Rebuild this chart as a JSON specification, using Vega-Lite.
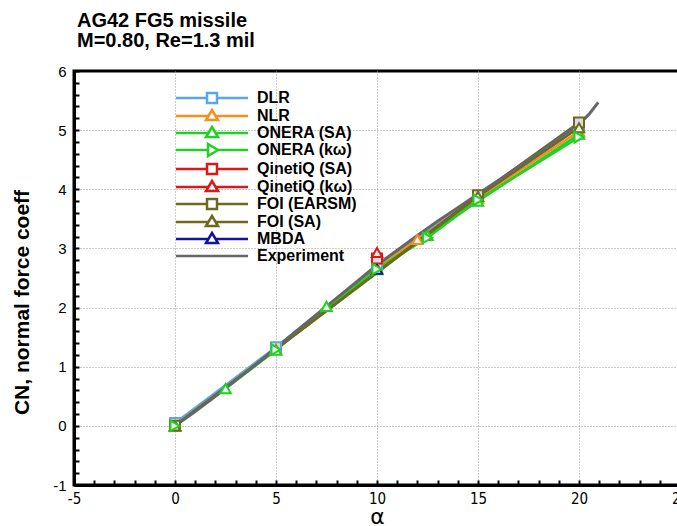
{
  "$schema": "https://vega.github.io/schema/vega-lite/v6.json",
  "width": 606,
  "height": 414,
  "autosize": {"type": "none"},
  "padding": {"left": 74, "top": 71, "right": -3, "bottom": 41},
  "background": "white",
  "config": {"view": {"stroke": "black", "strokeWidth": 3}, "font": "Liberation Sans"},
  "title": {
    "text": ["AG42 FG5 missile", "M=0.80, Re=1.3 mil"],
    "anchor": "start", "frame": "group", "dx": 3, "dy": 19,
    "fontSize": 20, "fontWeight": "bold", "font": "Liberation Sans", "color": "black",
    "lineHeight": 20, "baseline": "bottom", "offset": 12
  },
  "datasets": {
    "d": [
      {"series": "DLR", "alpha": 0, "cn": 0.05},
      {"series": "DLR", "alpha": 5, "cn": 1.33},
      {"series": "DLR", "alpha": 10, "cn": 2.7},
      {"series": "DLR", "alpha": 15, "cn": 3.87},
      {"series": "DLR", "alpha": 20, "cn": 5.06},
      {"series": "NLR", "alpha": 0, "cn": 0.0},
      {"series": "NLR", "alpha": 5, "cn": 1.3},
      {"series": "NLR", "alpha": 10, "cn": 2.67},
      {"series": "NLR", "alpha": 12, "cn": 3.15},
      {"series": "NLR", "alpha": 15, "cn": 3.85},
      {"series": "NLR", "alpha": 20, "cn": 4.98},
      {"series": "ONERA (SA)", "alpha": 0, "cn": 0.0},
      {"series": "ONERA (SA)", "alpha": 2.5, "cn": 0.63},
      {"series": "ONERA (SA)", "alpha": 5, "cn": 1.28},
      {"series": "ONERA (SA)", "alpha": 7.5, "cn": 2.02},
      {"series": "ONERA (SA)", "alpha": 10, "cn": 2.64},
      {"series": "ONERA (SA)", "alpha": 12.5, "cn": 3.22},
      {"series": "ONERA (SA)", "alpha": 15, "cn": 3.8},
      {"series": "ONERA (SA)", "alpha": 20, "cn": 4.93},
      {"series": "ONERA (kω)", "alpha": 0, "cn": 0.0},
      {"series": "ONERA (kω)", "alpha": 5, "cn": 1.29},
      {"series": "ONERA (kω)", "alpha": 10, "cn": 2.65},
      {"series": "ONERA (kω)", "alpha": 12.5, "cn": 3.18},
      {"series": "ONERA (kω)", "alpha": 15, "cn": 3.82},
      {"series": "ONERA (kω)", "alpha": 20, "cn": 4.88},
      {"series": "QinetiQ (SA)", "alpha": 10, "cn": 2.83},
      {"series": "QinetiQ (kω)", "alpha": 10, "cn": 2.93},
      {"series": "FOI (EARSM)", "alpha": 0, "cn": 0.0},
      {"series": "FOI (EARSM)", "alpha": 15, "cn": 3.9},
      {"series": "FOI (EARSM)", "alpha": 20, "cn": 5.13},
      {"series": "FOI (SA)", "alpha": 0, "cn": 0.0},
      {"series": "FOI (SA)", "alpha": 15, "cn": 3.88},
      {"series": "FOI (SA)", "alpha": 20, "cn": 5.04},
      {"series": "MBDA", "alpha": 10, "cn": 2.65},
      {"series": "Experiment", "alpha": 0, "cn": 0.0},
      {"series": "Experiment", "alpha": 1, "cn": 0.24},
      {"series": "Experiment", "alpha": 2, "cn": 0.5},
      {"series": "Experiment", "alpha": 3, "cn": 0.77},
      {"series": "Experiment", "alpha": 4, "cn": 1.04},
      {"series": "Experiment", "alpha": 5, "cn": 1.32},
      {"series": "Experiment", "alpha": 6, "cn": 1.6},
      {"series": "Experiment", "alpha": 7, "cn": 1.88},
      {"series": "Experiment", "alpha": 8, "cn": 2.16},
      {"series": "Experiment", "alpha": 9, "cn": 2.44},
      {"series": "Experiment", "alpha": 10, "cn": 2.72},
      {"series": "Experiment", "alpha": 11, "cn": 2.97},
      {"series": "Experiment", "alpha": 12, "cn": 3.22},
      {"series": "Experiment", "alpha": 13, "cn": 3.46},
      {"series": "Experiment", "alpha": 14, "cn": 3.69},
      {"series": "Experiment", "alpha": 15, "cn": 3.92},
      {"series": "Experiment", "alpha": 16, "cn": 4.15},
      {"series": "Experiment", "alpha": 17, "cn": 4.38},
      {"series": "Experiment", "alpha": 18, "cn": 4.62},
      {"series": "Experiment", "alpha": 19, "cn": 4.86},
      {"series": "Experiment", "alpha": 20, "cn": 5.1},
      {"series": "Experiment", "alpha": 20.5, "cn": 5.27},
      {"series": "Experiment", "alpha": 20.95, "cn": 5.47}
    ]
  },
  "data": {"name": "d"},
  "encoding": {
    "x": {
      "field": "alpha", "type": "quantitative",
      "scale": {"domain": [-5, 25], "nice": false, "zero": false},
      "title": "α",
      "axis": {
        "values": [-5,-4,-3,-2,-1,0,1,2,3,4,5,6,7,8,9,10,11,12,13,14,15,16,17,18,19,20,21,22,23,24,25],
        "labelExpr": "datum.value % 5 === 0 ? '' + datum.value : ''",
        "tickSize": -5, "tickWidth": 2, "tickColor": "black",
        "labelPadding": 11, "labelFontSize": 15, "labelFont": "Liberation Sans Narrow, DejaVu Sans Condensed, Liberation Sans", "labelColor": "black",
        "labelOverlap": false, "labelFlush": false, "labelBound": false,
        "domainColor": "black", "domainWidth": 3,
        "grid": true, "gridColor": "#999999", "gridDash": [1, 2], "gridWidth": 1,
        "gridOpacity": {"condition": {"test": "datum.value % 5 === 0 && datum.value > -5", "value": 1}, "value": 0},
        "titleFontSize": 22, "titleFontWeight": "normal", "titlePadding": 0, "titleColor": "black", "titleFont": "DejaVu Sans",
        "encode": {
          "ticks": {"update": {"y2": {"signal": "datum.value % 5 === 0 ? -9 : -5"}}}
        }
      }
    },
    "y": {
      "field": "cn", "type": "quantitative",
      "scale": {"domain": [-1, 6], "nice": false, "zero": false},
      "title": "CN, normal force coeff",
      "axis": {
        "values": [-1,-0.8,-0.6,-0.4,-0.2,0,0.2,0.4,0.6,0.8,1,1.2,1.4,1.6,1.8,2,2.2,2.4,2.6,2.8,3,3.2,3.4,3.6,3.8,4,4.2,4.4,4.6,4.8,5,5.2,5.4,5.6,5.8,6],
        "labelExpr": "abs(datum.value - round(datum.value)) < 0.001 ? '' + round(datum.value) : ''",
        "tickSize": -5, "tickWidth": 2, "tickColor": "black",
        "labelPadding": 13, "labelFontSize": 15, "labelFont": "Liberation Sans", "labelColor": "black",
        "labelOverlap": false, "labelFlush": false, "labelBound": false,
        "domainColor": "black", "domainWidth": 3,
        "grid": true, "gridColor": "#999999", "gridDash": [1, 2], "gridWidth": 1,
        "gridOpacity": {"condition": {"test": "abs(datum.value - round(datum.value)) < 0.001 && datum.value > -1 && datum.value < 6", "value": 1}, "value": 0},
        "titleFontSize": 21, "titleFontWeight": "bold", "titlePadding": 20, "titleColor": "black", "titleFont": "Liberation Sans",
        "titleY": 231,
        "encode": {
          "ticks": {"update": {"x2": {"signal": "abs(datum.value - round(datum.value)) < 0.001 ? 9 : 5"}}}
        }
      }
    }
  },
  "layer": [
    {
      "transform": [{"filter": "datum.series !== 'Experiment'"}],
      "mark": {"type": "line", "strokeWidth": 2.5},
      "encoding": {
        "stroke": {
          "field": "series", "type": "nominal",
          "scale": {
            "domain": ["DLR", "NLR", "ONERA (SA)", "ONERA (kω)", "QinetiQ (SA)", "QinetiQ (kω)", "FOI (EARSM)", "FOI (SA)", "MBDA"],
            "range": ["#5aa5ec", "#f5901e", "#22d022", "#22d022", "#dd1818", "#dd1818", "#6b6b1e", "#6b6b1e", "#14149b"]
          },
          "legend": null
        }
      }
    },
    {
      "transform": [{"filter": "datum.series === 'Experiment'"}],
      "mark": {"type": "line", "strokeWidth": 3, "color": "#666666"},
      "encoding": {}
    },
    {
      "transform": [{"filter": {"field": "series", "oneOf": ["DLR", "QinetiQ (SA)", "FOI (EARSM)"]}}],
      "mark": {"type": "point", "shape": "square", "size": 100, "filled": true, "fill": "#dcdcdc", "strokeWidth": 2, "opacity": 1},
      "encoding": {
        "stroke": {"field": "series", "type": "nominal", "legend": null}
      }
    },
    {
      "transform": [{"filter": {"field": "series", "oneOf": ["NLR", "ONERA (SA)", "QinetiQ (kω)", "FOI (SA)", "MBDA"]}}],
      "mark": {"type": "point", "shape": "triangle-up", "size": 110, "filled": true, "fill": "#eeeeee", "strokeWidth": 2, "opacity": 1},
      "encoding": {
        "stroke": {"field": "series", "type": "nominal", "legend": null}
      }
    },
    {
      "transform": [{"filter": {"field": "series", "oneOf": ["ONERA (kω)"]}}],
      "mark": {"type": "point", "shape": "triangle-right", "size": 110, "filled": true, "fill": "#eeeeee", "strokeWidth": 2, "opacity": 1},
      "encoding": {
        "stroke": {"field": "series", "type": "nominal", "legend": null}
      }
    },
    {
      "transform": [{"filter": "datum.alpha > 1000"}],
      "mark": {"type": "point", "filled": false, "size": 100, "strokeWidth": 2.5, "opacity": 1},
      "encoding": {
        "color": {
          "field": "series", "type": "nominal",
          "scale": {
            "domain": ["DLR", "NLR", "ONERA (SA)", "ONERA (kω)", "QinetiQ (SA)", "QinetiQ (kω)", "FOI (EARSM)", "FOI (SA)", "MBDA", "Experiment"],
            "range": ["#5aa5ec", "#f5901e", "#22d022", "#22d022", "#dd1818", "#dd1818", "#6b6b1e", "#6b6b1e", "#14149b", "#666666"]
          },
          "legend": {
            "orient": "none", "legendX": 130, "legendY": 19, "title": null,
            "symbolSize": 100, "symbolStrokeWidth": 2.5, "symbolFillColor": "#dcdcdc", "symbolOpacity": 1,
            "labelFont": "Liberation Sans", "labelFontSize": 16, "labelFontWeight": "bold", "labelColor": "black",
            "labelOffset": 37, "rowPadding": -4, "padding": 0, "labelLimit": 300
          }
        },
        "shape": {
          "field": "series", "type": "nominal",
          "scale": {
            "domain": ["DLR", "NLR", "ONERA (SA)", "ONERA (kω)", "QinetiQ (SA)", "QinetiQ (kω)", "FOI (EARSM)", "FOI (SA)", "MBDA", "Experiment"],
            "range": [
              "M-7.2,0H-1M1,0H7.2M-1,-1H1V1H-1Z",
              "M-7.2,0H-0.72M0.72,0H7.2M0,-1.2L1.2,0.8H-1.2Z",
              "M-7.2,0H-0.72M0.72,0H7.2M0,-1.2L1.2,0.8H-1.2Z",
              "M-7.2,0H-0.8M1.2,0H7.2M-0.8,-1.2L1.2,0L-0.8,1.2Z",
              "M-7.2,0H-1M1,0H7.2M-1,-1H1V1H-1Z",
              "M-7.2,0H-0.72M0.72,0H7.2M0,-1.2L1.2,0.8H-1.2Z",
              "M-7.2,0H-1M1,0H7.2M-1,-1H1V1H-1Z",
              "M-7.2,0H-0.72M0.72,0H7.2M0,-1.2L1.2,0.8H-1.2Z",
              "M-7.2,0H-0.72M0.72,0H7.2M0,-1.2L1.2,0.8H-1.2Z",
              "M-7.2,0H7.2"
            ]
          }
        }
      }
    }
  ]
}
